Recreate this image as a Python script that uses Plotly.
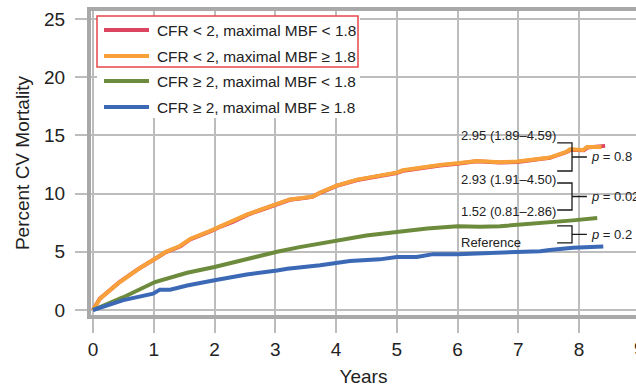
import plotly.graph_objects as go

# Cumulative CV mortality (%) by CFR / maximal MBF group
series_names = [
    "CFR < 2, maximal MBF < 1.8",
    "CFR < 2, maximal MBF \u2265 1.8",
    "CFR \u2265 2, maximal MBF < 1.8",
    "CFR \u2265 2, maximal MBF \u2265 1.8",
]
series_colors = ["#dc4560", "#f8a03a", "#6c8b3c", "#3b69b6"]

red_t = [0, 0.11, 0.43, 0.76, 1.01, 1.2, 1.44, 1.6, 1.94, 2.1, 2.3, 2.54, 2.75, 2.97, 3.24,
         3.41, 3.61, 3.74, 4.01, 4.35, 4.7, 5.0, 5.11, 5.39, 5.5, 5.71, 6.0, 6.31, 6.7, 6.99,
         7.36, 7.52, 7.8, 7.86, 8.08, 8.14, 8.43]
red_y = [0, 0.97, 2.37, 3.57, 4.36, 4.97, 5.47, 6.07, 6.77, 7.17, 7.57, 8.17, 8.57, 8.97, 9.47,
         9.57, 9.72, 10.07, 10.67, 11.17, 11.47, 11.77, 11.97, 12.17, 12.32, 12.42, 12.57, 12.77, 12.67, 12.72,
         12.97, 13.07, 13.57, 13.77, 13.72, 13.97, 14.1]

orange_t = [0, 0.12, 0.44, 0.77, 1.02, 1.2, 1.43, 1.6, 1.93, 2.1, 2.3, 2.53, 2.75, 2.96, 3.24,
            3.41, 3.62, 3.74, 4.02, 4.35, 4.7, 5.0, 5.1, 5.38, 5.5, 5.71, 6.0, 6.32, 6.7, 6.98,
            7.36, 7.52, 7.8, 7.85, 8.07, 8.13, 8.37]
orange_y = [0, 1.0, 2.4, 3.6, 4.4, 5.0, 5.5, 6.1, 6.8, 7.2, 7.6, 8.2, 8.6, 9.0, 9.5,
            9.6, 9.75, 10.1, 10.7, 11.2, 11.5, 11.8, 12.0, 12.2, 12.35, 12.45, 12.6, 12.8, 12.7, 12.75,
            13.0, 13.1, 13.6, 13.8, 13.75, 14.0, 14.0]

green_t = [0, 0.5, 1.02, 1.55, 2.0, 2.53, 3.03, 3.4, 3.74, 4.02, 4.5, 5.0, 5.5, 6.0, 6.37,
           6.7, 6.98, 7.4, 7.9, 8.3]
green_y = [0, 1.1, 2.4, 3.2, 3.7, 4.4, 5.0, 5.4, 5.7, 6.0, 6.4, 6.7, 7.0, 7.2, 7.15,
           7.2, 7.3, 7.45, 7.7, 7.9]

blue_t = [0, 0.5, 0.99, 1.1, 1.27, 1.55, 2.0, 2.53, 3.03, 3.2, 3.74, 3.95, 4.23, 4.72, 5.0,
          5.33, 5.6, 6.0, 6.98, 7.36, 7.52, 7.9, 8.4]
blue_y = [0, 0.85, 1.4, 1.75, 1.75, 2.1, 2.55, 3.05, 3.4, 3.55, 3.85, 4.0, 4.2, 4.35, 4.55,
          4.55, 4.8, 4.8, 4.95, 5.05, 5.15, 5.35, 5.45]

x_ticks = [0, 1, 2, 3, 4, 5, 6, 7, 8]
y_ticks = [0, 5, 10, 15, 20, 25]

# Hazard ratios (95% CI) vs. reference group, and pairwise p values
hr_labels = ["2.95 (1.89\u20134.59)", "2.93 (1.91\u20134.50)", "1.52 (0.81\u20132.86)", "Reference"]
hr_label_y = [15.03, 11.17, 8.42, 5.76]
p_labels = ["<i>p</i> = 0.8", "<i>p</i> = 0.02", "<i>p</i> = 0.2"]
# bracket spans (low, high) in % units
bracket_spans = [(11.94, 14.35), (8.59, 10.91), (5.76, 7.22)]

FONT = "Liberation Sans, Arial, Helvetica, sans-serif"
TXT = "#222222"
GRID = "#bdbdbd"
FRAME = "#a9a9a9"

W, H = 636, 388
L, R, T, B = 91, 0, 11, 73

fig = go.Figure()
for t, y, name, col in [
    (red_t, red_y, series_names[0], series_colors[0]),
    (orange_t, orange_y, series_names[1], series_colors[1]),
    (green_t, green_y, series_names[2], series_colors[2]),
    (blue_t, blue_y, series_names[3], series_colors[3]),
]:
    fig.add_trace(go.Scatter(x=t, y=y, name=name, mode="lines",
                             line=dict(color=col, width=4), showlegend=False))


def px_x(px):
    return (px - L) / (W - L - R)


def px_y(py):
    return (H - B - py) / (H - T - B)


shapes = []
annotations = []

# legend panel
shapes.append(dict(type="rect", xref="paper", yref="paper", layer="above",
                   x0=px_x(97), x1=px_x(360), y0=px_y(118), y1=px_y(16),
                   fillcolor="white", line=dict(width=0)))
legend_rows = [30, 56, 81, 107]
for i, (name, col) in enumerate(zip(series_names, series_colors)):
    yy = px_y(legend_rows[i])
    shapes.append(dict(type="line", xref="paper", yref="paper", layer="above",
                       x0=px_x(104), x1=px_x(149), y0=yy, y1=yy,
                       line=dict(color=col, width=4)))
    annotations.append(dict(text=name, xref="paper", yref="paper", x=px_x(155), y=yy,
                            xanchor="left", yanchor="middle", showarrow=False,
                            font=dict(family=FONT, size=15.4, color=TXT)))
shapes.append(dict(type="rect", xref="paper", yref="paper", layer="above",
                   x0=px_x(97), x1=px_x(358), y0=px_y(67), y1=px_y(16),
                   line=dict(color="#e8474a", width=1.5)))

# hazard ratio labels
for lab, yv in zip(hr_labels, hr_label_y):
    annotations.append(dict(text=lab, x=6.02, y=yv, xref="x", yref="y",
                            xanchor="left", yanchor="middle", showarrow=False,
                            font=dict(family=FONT, size=13, color=TXT)))

# brackets with p values
bx0, bx1, bx2 = 7.64, 7.885, 8.13
for (lo, hi), plab in zip(bracket_spans, p_labels):
    mid = (lo + hi) / 2
    shapes.append(dict(type="path", xref="x", yref="y", layer="above",
                       path=f"M{bx0},{hi} L{bx1},{hi} L{bx1},{lo} L{bx0},{lo} "
                            f"M{bx1},{mid} L{bx2},{mid}",
                       line=dict(color="#1a1a1a", width=1.3)))
    annotations.append(dict(text=plab, x=8.17, y=mid, xref="x", yref="y",
                            xanchor="left", yanchor="middle", showarrow=False,
                            font=dict(family=FONT, size=13, color=TXT)))

# the 9-year tick label sits just past the right edge
annotations.append(dict(text="9", xref="paper", yref="paper", x=px_x(93 + 9 * 60.75),
                        y=px_y(348), xanchor="center", yanchor="middle", showarrow=False,
                        font=dict(family=FONT, size=19, color=TXT)))

fig.update_layout(
    width=W, height=H,
    margin=dict(l=L, r=R, t=T, b=B, pad=0),
    paper_bgcolor="white", plot_bgcolor="white",
    font=dict(family=FONT, color=TXT),
    shapes=shapes, annotations=annotations,
    showlegend=False,
)
fig.update_xaxes(
    range=[-2 / 60.75, (636 - 93) / 60.75],
    tickvals=x_ticks, ticktext=[str(v) for v in x_ticks],
    showgrid=True, gridcolor=GRID, gridwidth=1.5,
    zeroline=False,
    showline=True, linecolor=FRAME, linewidth=4, mirror=True,
    ticks="outside", ticklen=14, tickcolor=GRID, tickwidth=1.5,
    ticklabelstandoff=0,
    tickfont=dict(family=FONT, size=19, color=TXT),
    title=dict(text="Years", font=dict(family=FONT, size=19, color=TXT), standoff=12),
)
fig.update_yaxes(
    range=[-5 / 11.64, 25 + 8 / 11.64],
    tickvals=y_ticks, ticktext=[str(v) for v in y_ticks],
    showgrid=True, gridcolor=GRID, gridwidth=1.5,
    zeroline=False,
    showline=True, linecolor=FRAME, linewidth=4, mirror=False,
    ticks="outside", ticklen=12, tickcolor=GRID, tickwidth=1.5,
    ticklabelstandoff=6,
    tickfont=dict(family=FONT, size=19, color=TXT),
    title=dict(text="Percent CV Mortality", font=dict(family=FONT, size=19, color=TXT), standoff=10),
)

fig.write_html("out.html")
